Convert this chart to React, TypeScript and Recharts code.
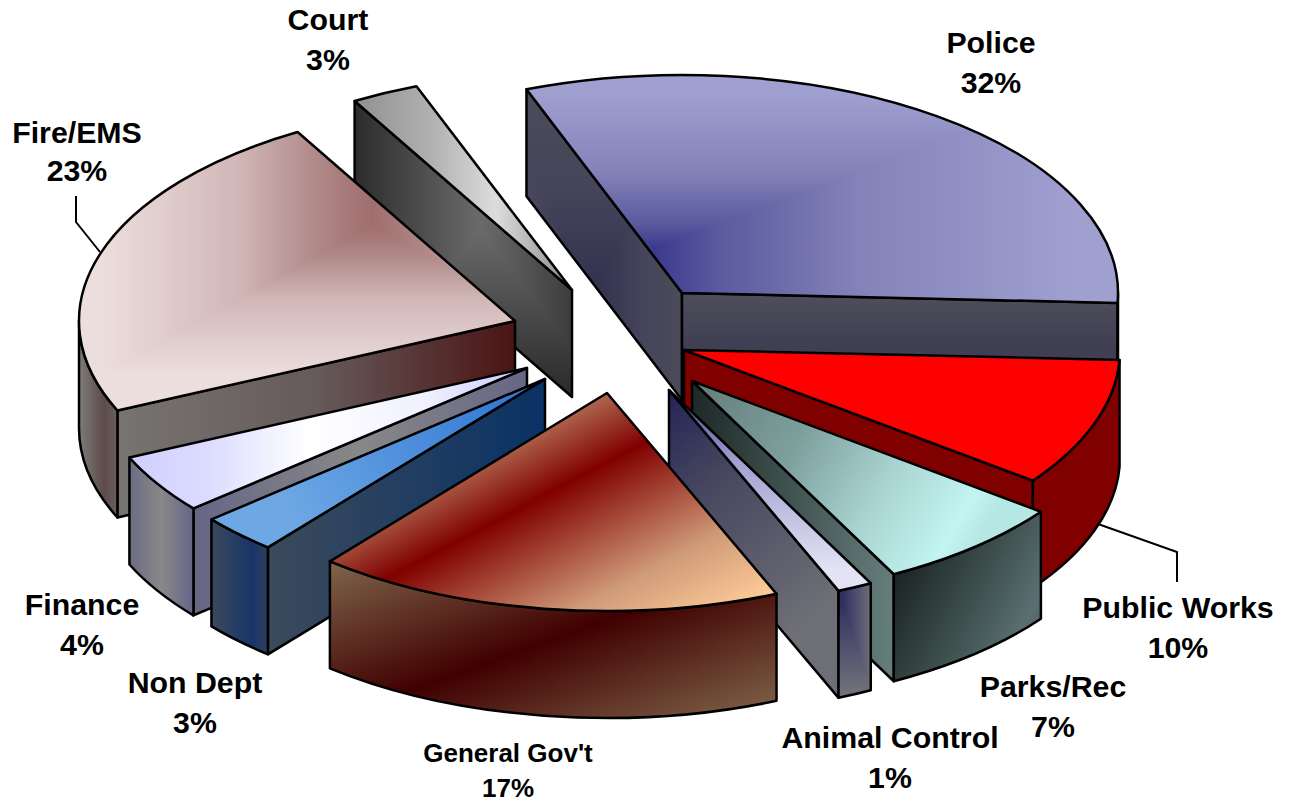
import * as React from 'react';
import { Pie, PieChart } from 'recharts';

const names = ['Police', 'Public Works', 'Parks/Rec', 'Animal Control', "General Gov't", 'Non Dept', 'Finance', 'Fire/EMS', 'Court'];
const shares = [31.5, 9.5, 7.1, 1.3, 17.3, 2.9, 4.4, 23.4, 2.5];
const shareLabels = ['32%', '10%', '7%', '1%', '17%', '3%', '4%', '23%', '3%'];

const table = names.map((name, i) => ({ name, value: shares[i], label: shareLabels[i] }));

// back to front, a pie can only paint in data order so each slice gets its own Pie
const paintOrder = ['Court', 'Police', 'Fire/EMS', 'Finance', 'Non Dept', 'Public Works', 'Parks/Rec', 'Animal Control', "General Gov't"];

const WIDTH = 1295;
const HEIGHT = 805;
const CX = 600;
const CY = 340;
const RADIUS = 436;
const SQUASH = 0.5;
const DEPTH = 107;
const FONT = '"Liberation Sans", Arial, sans-serif';

type Stops = [number, string][];
type Paint =
  | string
  | { x1: number; y1: number; x2: number; y2: number; stops: Stops }
  | { gx: number; gy: number; a: number; b: number; only?: 'up' | 'down'; stops: Stops };

type SliceStyle = { dx: number; dy: number; top: Paint; startWall?: Paint; endWall?: Paint; arcWall?: Paint };

const styles: Record<string, SliceStyle> = {
  Police: {
    dx: 82,
    dy: -47,
    top: { gx: 655, gy: 247, a: 420, b: 155, only: 'up', stops: [[0, '#3d3a8e'], [0.15, '#5a5a9e'], [0.5, '#8584ba'], [1, '#9f9fd0']] },
    startWall: { gx: 592, gy: 300, a: 100, b: 220, stops: [[0, '#30304f'], [0.5, '#45445a'], [1, '#4e4d5a']] },
    endWall: { x1: 0, y1: 293, x2: 0, y2: 350, stops: [[0, '#4f4e5b'], [1, '#3f3e52']] },
    arcWall: '#4f4e5b',
  },
  'Public Works': { dx: 84, dy: 10, top: '#ff0000', startWall: '#800000', endWall: '#800000', arcWall: '#800000' },
  'Parks/Rec': {
    dx: 92,
    dy: 41,
    top: { x1: 700, y1: 385, x2: 975, y2: 545, stops: [[0, '#667f7d'], [0.35, '#7d9f9c'], [0.65, '#a8d2cf'], [0.92, '#c2f5f2'], [1, '#b5e8e5']] },
    endWall: { x1: 691, y1: 0, x2: 896, y2: 0, stops: [[0, '#1d2926'], [1, '#667f7d']] },
    arcWall: { x1: 896, y1: 580, x2: 1040, y2: 650, stops: [[0, '#1c2624'], [0.5, '#3f514f'], [0.85, '#5b6f72'], [1, '#4a5f5d']] },
  },
  'Animal Control': {
    dx: 69,
    dy: 50,
    top: { x1: 0, y1: 388, x2: 0, y2: 570, stops: [[0, '#3b3a8c'], [0.4, '#a0a0d0'], [1, '#e3e3f3']] },
    endWall: { x1: 667, y1: 400, x2: 830, y2: 600, stops: [[0, '#252657'], [0.35, '#46465f'], [1, '#6e6e76']] },
    arcWall: { gx: 842, gy: 600, a: 30, b: 90, stops: [[0, '#2e2e60'], [1, '#70707a']] },
  },
  "General Gov't": {
    dx: 7,
    dy: 53,
    top: { x1: 484, y1: 448, x2: 608, y2: 682, stops: [[0, '#b5755a'], [0.264, '#800000'], [0.7, '#cf9a78'], [1, '#ffcc99']] },
    arcWall: { x1: 467, y1: 511, x2: 564, y2: 779, stops: [[0, '#7f664c'], [0.526, '#400000'], [1, '#7a5c44']] },
  },
  'Non Dept': {
    dx: -55,
    dy: 39,
    top: { x1: 544, y1: 377, x2: 290, y2: 520, stops: [[0, '#2a72d2'], [1, '#6ea8e4']] },
    startWall: { x1: 544, y1: 0, x2: 270, y2: 0, stops: [[0, '#0a3265'], [1, '#3b4a5c']] },
    arcWall: { x1: 210, y1: 0, x2: 270, y2: 0, stops: [[0, '#3c4a5a'], [0.7, '#18356a'], [1, '#30405a']] },
  },
  Finance: {
    dx: -73,
    dy: 28,
    top: { x1: 130, y1: 0, x2: 527, y2: 0, stops: [[0, '#cfcfff'], [0.2, '#dcdcff'], [0.45, '#ffffff'], [0.75, '#f0f0ff'], [1, '#c8c8ff']] },
    startWall: { x1: 193, y1: 0, x2: 527, y2: 0, stops: [[0, '#666685'], [0.5, '#888888'], [1, '#666685']] },
    arcWall: { x1: 130, y1: 0, x2: 193, y2: 0, stops: [[0, '#6c6c85'], [0.5, '#888888'], [1, '#66668a']] },
  },
  'Fire/EMS': {
    dx: -85,
    dy: -19,
    top: { gx: 372, gy: 225, a: 272, b: 150, only: 'down', stops: [[0, '#a06e6e'], [0.2, '#b08888'], [0.5, '#d2b8b8'], [1, '#eddede']] },
    startWall: { x1: 118, y1: 0, x2: 515, y2: 0, stops: [[0, '#777471'], [0.5, '#665a5a'], [1, '#4a1414']] },
    arcWall: { x1: 79, y1: 0, x2: 118, y2: 0, stops: [[0, '#7d7c7a'], [0.65, '#5e4a4a'], [1, '#6a6060']] },
  },
  Court: {
    dx: -28,
    dy: -50,
    top: { x1: 354, y1: 0, x2: 572, y2: 0, stops: [[0, '#909090'], [0.35, '#b0b0b0'], [0.65, '#dcdcdc'], [1, '#8a8a8a']] },
    startWall: { gx: 480, gy: 230, a: 130, b: 165, only: 'down', stops: [[0, '#6a6a6a'], [1, '#2a2a2a']] },
  },
};

const labelSpots: Record<string, { x: number; y: number; y2: number; size?: number; leader?: string }> = {
  Police: { x: 991, y: 53, y2: 93 },
  'Public Works': { x: 1178, y: 618, y2: 658, leader: '1098,524 1177,552 1177,582' },
  'Parks/Rec': { x: 1053, y: 697, y2: 737 },
  'Animal Control': { x: 890, y: 748, y2: 788 },
  "General Gov't": { x: 508, y: 762, y2: 797, size: 26 },
  'Non Dept': { x: 195, y: 693, y2: 733 },
  Finance: { x: 82, y: 615, y2: 655 },
  'Fire/EMS': { x: 77, y: 143, y2: 181, leader: '76,196 76,222 100,252' },
  Court: { x: 328, y: 30, y2: 70 },
};

const slug = (s: string) => s.replace(/[^a-zA-Z]/g, '');

function Face({ id, d, paint }: { id: string; d: string; paint: Paint }) {
  const line = { stroke: '#000', strokeWidth: 2.5, strokeLinejoin: 'round' as const };
  if (typeof paint === 'string') return <path d={d} fill={paint} {...line} />;
  if ('x1' in paint) {
    return (
      <>
        <defs>
          <linearGradient id={id} gradientUnits="userSpaceOnUse" x1={paint.x1} y1={paint.y1} x2={paint.x2} y2={paint.y2}>
            {paint.stops.map(([o, c]) => <stop key={o} offset={o} stopColor={c} />)}
          </linearGradient>
        </defs>
        <path d={d} fill={`url(#${id})`} {...line} />
      </>
    );
  }
  // powerpoint "from corner" style: horizontal ramp with a vertical ramp in the bowtie over it
  const { gx, gy, a, b, only, stops } = paint;
  const mirrored: Stops = [
    ...[...stops].reverse().map(([o, c]): [number, string] => [0.5 - o / 2, c]),
    ...stops.map(([o, c]): [number, string] => [0.5 + o / 2, c]),
  ];
  const k = 4;
  const upper = `M${gx} ${gy}L${gx + a * k} ${gy - b * k}L${gx - a * k} ${gy - b * k}Z`;
  const lower = `M${gx} ${gy}L${gx - a * k} ${gy + b * k}L${gx + a * k} ${gy + b * k}Z`;
  const bowtie = only === 'up' ? upper : only === 'down' ? lower : `${upper} ${lower}`;
  return (
    <>
      <defs>
        <linearGradient id={`${id}h`} gradientUnits="userSpaceOnUse" x1={gx - a} y1={0} x2={gx + a} y2={0}>
          {mirrored.map(([o, c], i) => <stop key={i} offset={o} stopColor={c} />)}
        </linearGradient>
        <linearGradient id={`${id}v`} gradientUnits="userSpaceOnUse" x1={0} y1={gy - b} x2={0} y2={gy + b}>
          {mirrored.map(([o, c], i) => <stop key={i} offset={o} stopColor={c} />)}
        </linearGradient>
        <clipPath id={`${id}c`}><path d={d} /></clipPath>
      </defs>
      <g clipPath={`url(#${id}c)`}>
        <rect x={0} y={0} width={WIDTH} height={HEIGHT} fill={`url(#${id}h)`} />
        <path d={bowtie} fill={`url(#${id}v)`} />
      </g>
      <path d={d} fill="none" {...line} />
    </>
  );
}

function Slice(props: any) {
  const { name, cx, cy, outerRadius, startAngle, endAngle } = props;
  const style = styles[name];
  const ax = cx + style.dx;
  const ay = cy + style.dy;
  const ry = outerRadius * SQUASH;
  const pt = (cw: number) => {
    const r = (cw * Math.PI) / 180;
    return [ax + outerRadius * Math.cos(r), ay + ry * Math.sin(r)];
  };
  // clockwise degrees from 3 o'clock, easier to think about on screen
  const from = -startAngle;
  const to = -endAngle;
  const [sx, sy] = pt(from);
  const [ex, ey] = pt(to);
  const large = to - from > 180 ? 1 : 0;
  const id = slug(name);

  const top = `M${ax} ${ay}L${sx} ${sy}A${outerRadius} ${ry} 0 ${large} 1 ${ex} ${ey}Z`;
  const quad = (x: number, y: number) => `M${ax} ${ay}L${x} ${y}L${x} ${y + DEPTH}L${ax} ${ay + DEPTH}Z`;

  const arcFrom = Math.max(from, 0);
  const arcTo = Math.min(to, 180);
  let arcD = '';
  if (arcTo > arcFrom) {
    const [x1, y1] = pt(arcFrom);
    const [x2, y2] = pt(arcTo);
    arcD = `M${x1} ${y1}A${outerRadius} ${ry} 0 0 1 ${x2} ${y2}L${x2} ${y2 + DEPTH}A${outerRadius} ${ry} 0 0 0 ${x1} ${y1 + DEPTH}Z`;
  }

  return (
    <g>
      {style.startWall && sx < ax && <Face id={`${id}s`} d={quad(sx, sy)} paint={style.startWall} />}
      {style.endWall && ex > ax && <Face id={`${id}e`} d={quad(ex, ey)} paint={style.endWall} />}
      {style.arcWall && arcD && <Face id={`${id}a`} d={arcD} paint={style.arcWall} />}
      <Face id={`${id}t`} d={top} paint={style.top} />
    </g>
  );
}

function SliceLabel(props: any) {
  const spot = labelSpots[props.name];
  const text = { x: spot.x, textAnchor: 'middle' as const, fontFamily: FONT, fontWeight: 700, fontSize: spot.size ?? 30.3, fill: '#000', stroke: 'none' };
  return (
    <g>
      {spot.leader && <polyline points={spot.leader} fill="none" stroke="#000" strokeWidth={2} />}
      <text {...text} y={spot.y}>{props.name}</text>
      <text {...text} y={spot.y2}>{props.label}</text>
    </g>
  );
}

export default function App() {
  return (
    <div style={{ position: 'absolute', left: 0, top: 0, width: WIDTH, height: HEIGHT, background: '#fff' }}>
      <PieChart width={WIDTH} height={HEIGHT} margin={{ top: 0, right: 0, bottom: 0, left: 0 }}>
        {paintOrder.map((layer) => (
          <Pie
            key={layer}
            data={table}
            dataKey="value"
            nameKey="name"
            cx={CX}
            cy={CY}
            outerRadius={RADIUS}
            startAngle={110.9}
            endAngle={-249.1}
            stroke="none"
            isAnimationActive={false}
            labelLine={false}
            shape={(p: any) => (p.name === layer ? <Slice {...p} /> : <g />)}
            label={(p: any) => (p.name === layer ? <SliceLabel {...p} /> : <g />)}
          />
        ))}
      </PieChart>
    </div>
  );
}
